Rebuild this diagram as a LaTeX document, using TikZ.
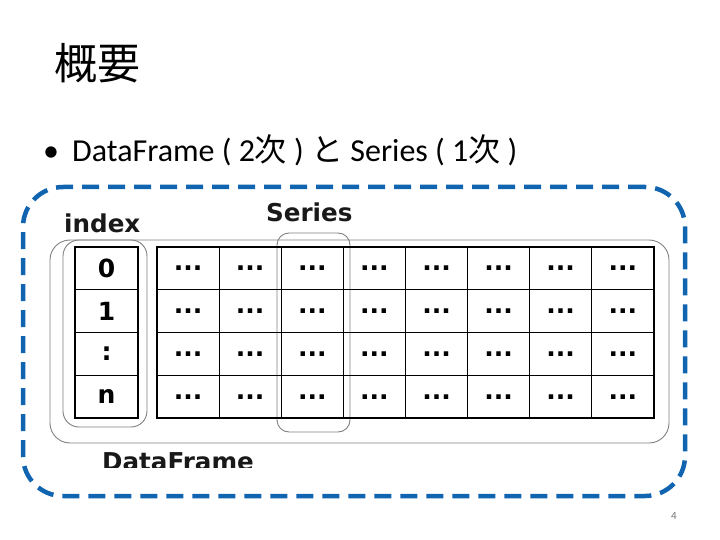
\documentclass[tikz,border=0pt]{standalone}
\usepackage{fontspec}
\setmainfont{Carlito}
\newfontfamily\cjk{Noto Sans CJK JP}
\newfontfamily\lab{DejaVu Sans}
\definecolor{dashblue}{RGB}{16,100,176}
\definecolor{outlinegray}{RGB}{128,128,128}
\begin{document}
\begin{tikzpicture}[x=1pt,y=-1pt,
  cellbox/.style={draw=black, line width=1.3pt, inner sep=0pt,
    minimum width=62.1pt, minimum height=42.75pt,
    font=\lab\bfseries\fontsize{25}{27}\selectfont},
  idxbox/.style={cellbox, minimum width=63pt},
  outline/.style={draw=outlinegray, line width=0.9pt},
  biglabel/.style={inner sep=0pt, anchor=base west, font=\lab\bfseries\fontsize{24.6}{26}\selectfont, text=black!90},
  bodytext/.style={anchor=base west, inner sep=0pt, font=\fontsize{32}{36}\selectfont},
  bluedash/.style={draw=dashblue, line width=4.5pt, dash pattern=on 17pt off 9pt, rounded corners=40pt}]
\useasboundingbox (0,0) rectangle (720,540);
% title
\node[anchor=base west, inner sep=0pt, font=\cjk\fontsize{43}{46}\selectfont] (title) at (54,80) {概要};
% bullet line
\node[bodytext] (dot) at (43,162) {•};
\node[bodytext] (bullet) at (72,162)
  {DataFrame ( 2{\cjk 次} ) {\cjk と} Series ( 1{\cjk 次} )};
% blue dashed frame
\node[bluedash, inner sep=0pt, minimum width=662pt, minimum height=309pt] (frame) at (354,341.5) {};
% outlines
\draw[outline, rounded corners=20pt] (50,240) rectangle (669,443);
\draw[outline, rounded corners=16pt] (63,240) rectangle (147,427);
\draw[outline, rounded corners=12pt] (277,233) rectangle (350,432);
% index column
\node[idxbox] (i0) at (106.5,268.4) {0};
\node[idxbox] (i1) at (106.5,311.1) {1};
\node[idxbox] (i2) at (106.5,353.9) {:};
\node[idxbox] (i3) at (106.5,396.6) {n};
% data cells
\foreach \c in {0,...,7}{
  \foreach \r in {0,...,3}{
    \node[cellbox] (d\c\r) at ({188.1+62.1*\c},{268.4+42.75*\r}) {...};
  }
}
% labels
\node[biglabel] (lindex) at (64,233) {index};
\node[biglabel] (lseries) at (266,222) {Series};
\begin{scope}
\clip (0,0) rectangle (720,467);
\node[biglabel] (ldf) at (102,470) {DataFrame};
\end{scope}
% page number
\node[inner sep=0pt, text=black!55, font=\fontsize{11}{12}\selectfont] (page) at (674,516) {4};
\end{tikzpicture}
\end{document}
